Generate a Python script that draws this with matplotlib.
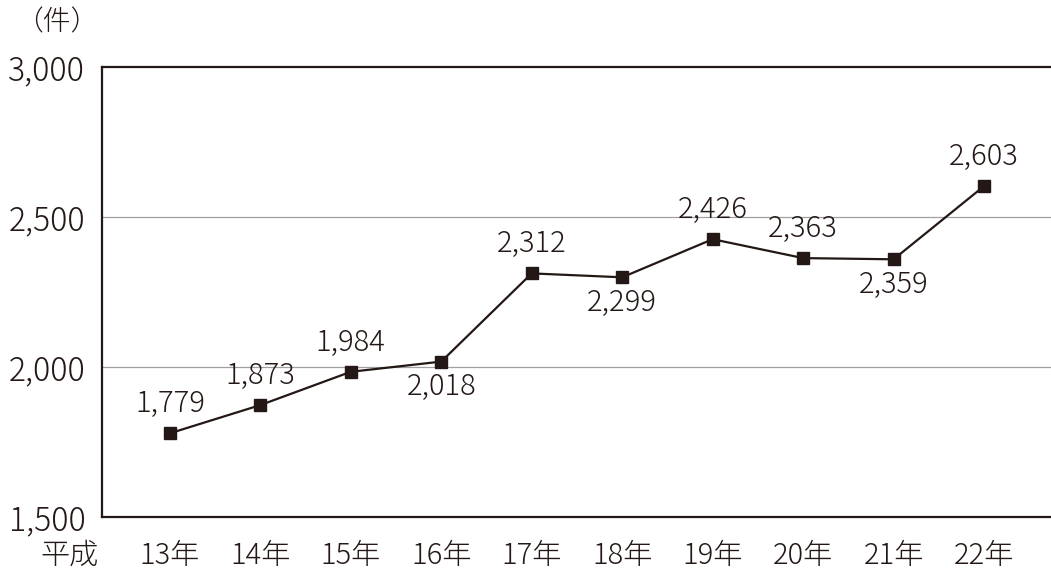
import matplotlib
matplotlib.use('Agg')
import matplotlib.pyplot as plt

plt.rcParams['font.family'] = ['Noto Sans CJK JP', 'DejaVu Sans']

years = ['13年', '14年', '15年', '16年', '17年', '18年', '19年', '20年', '21年', '22年']
cases = [1779, 1873, 1984, 2018, 2312, 2299, 2426, 2363, 2359, 2603]
# label above (1) or below (-1) each point
label_side = [1, 1, 1, -1, 1, -1, 1, 1, -1, 1]
yticks = [1500, 2000, 2500, 3000]

ink = '#231815'

fig = plt.figure(figsize=(10.51, 5.75), dpi=100)
ax = fig.add_axes([102 / 1051, 1 - 517 / 575, 1 - 102 / 1051, 450 / 575])

x = list(range(len(years)))
ax.plot(x, cases, color=ink, lw=1.6, marker='s', ms=8.5, mfc=ink, mec=ink, zorder=3)

for xi, v, side in zip(x, cases, label_side):
    off = 21 if side > 0 else -18
    ax.annotate(f'{v:,}', (xi, v), xytext=(0, off), textcoords='offset points',
                ha='center', va='center', fontsize=21, color=ink, fontweight='light')

ax.set_xlim(-0.75, 9.74)
ax.set_ylim(1500, 3000)
ax.set_yticks(yticks)
ax.set_yticklabels([f'{t:,}' for t in yticks], fontsize=23, color=ink, fontweight='light')
ax.set_xticks(x)
ax.set_xticklabels(years, fontsize=21, color=ink, fontweight='light')
ax.tick_params(length=0)
ax.tick_params(axis='x', pad=17)
ax.tick_params(axis='y', pad=12)

for t in [2000, 2500]:
    ax.axhline(t, color='#a0a0a0', lw=0.9, zorder=1)

ax.spines['right'].set_visible(False)
for s in ['left', 'top', 'bottom']:
    ax.spines[s].set_color(ink)
    ax.spines[s].set_linewidth(1.6)

fig.text(70 / 1051, 1 - 555 / 575, '平成', ha='center', va='center', fontsize=21,
         color=ink, fontweight='light')
fig.text(57 / 1051, 1 - 22 / 575, '（件）', ha='center', va='center', fontsize=20,
         color=ink, fontweight='light')

fig.savefig('out.png', dpi=100)
